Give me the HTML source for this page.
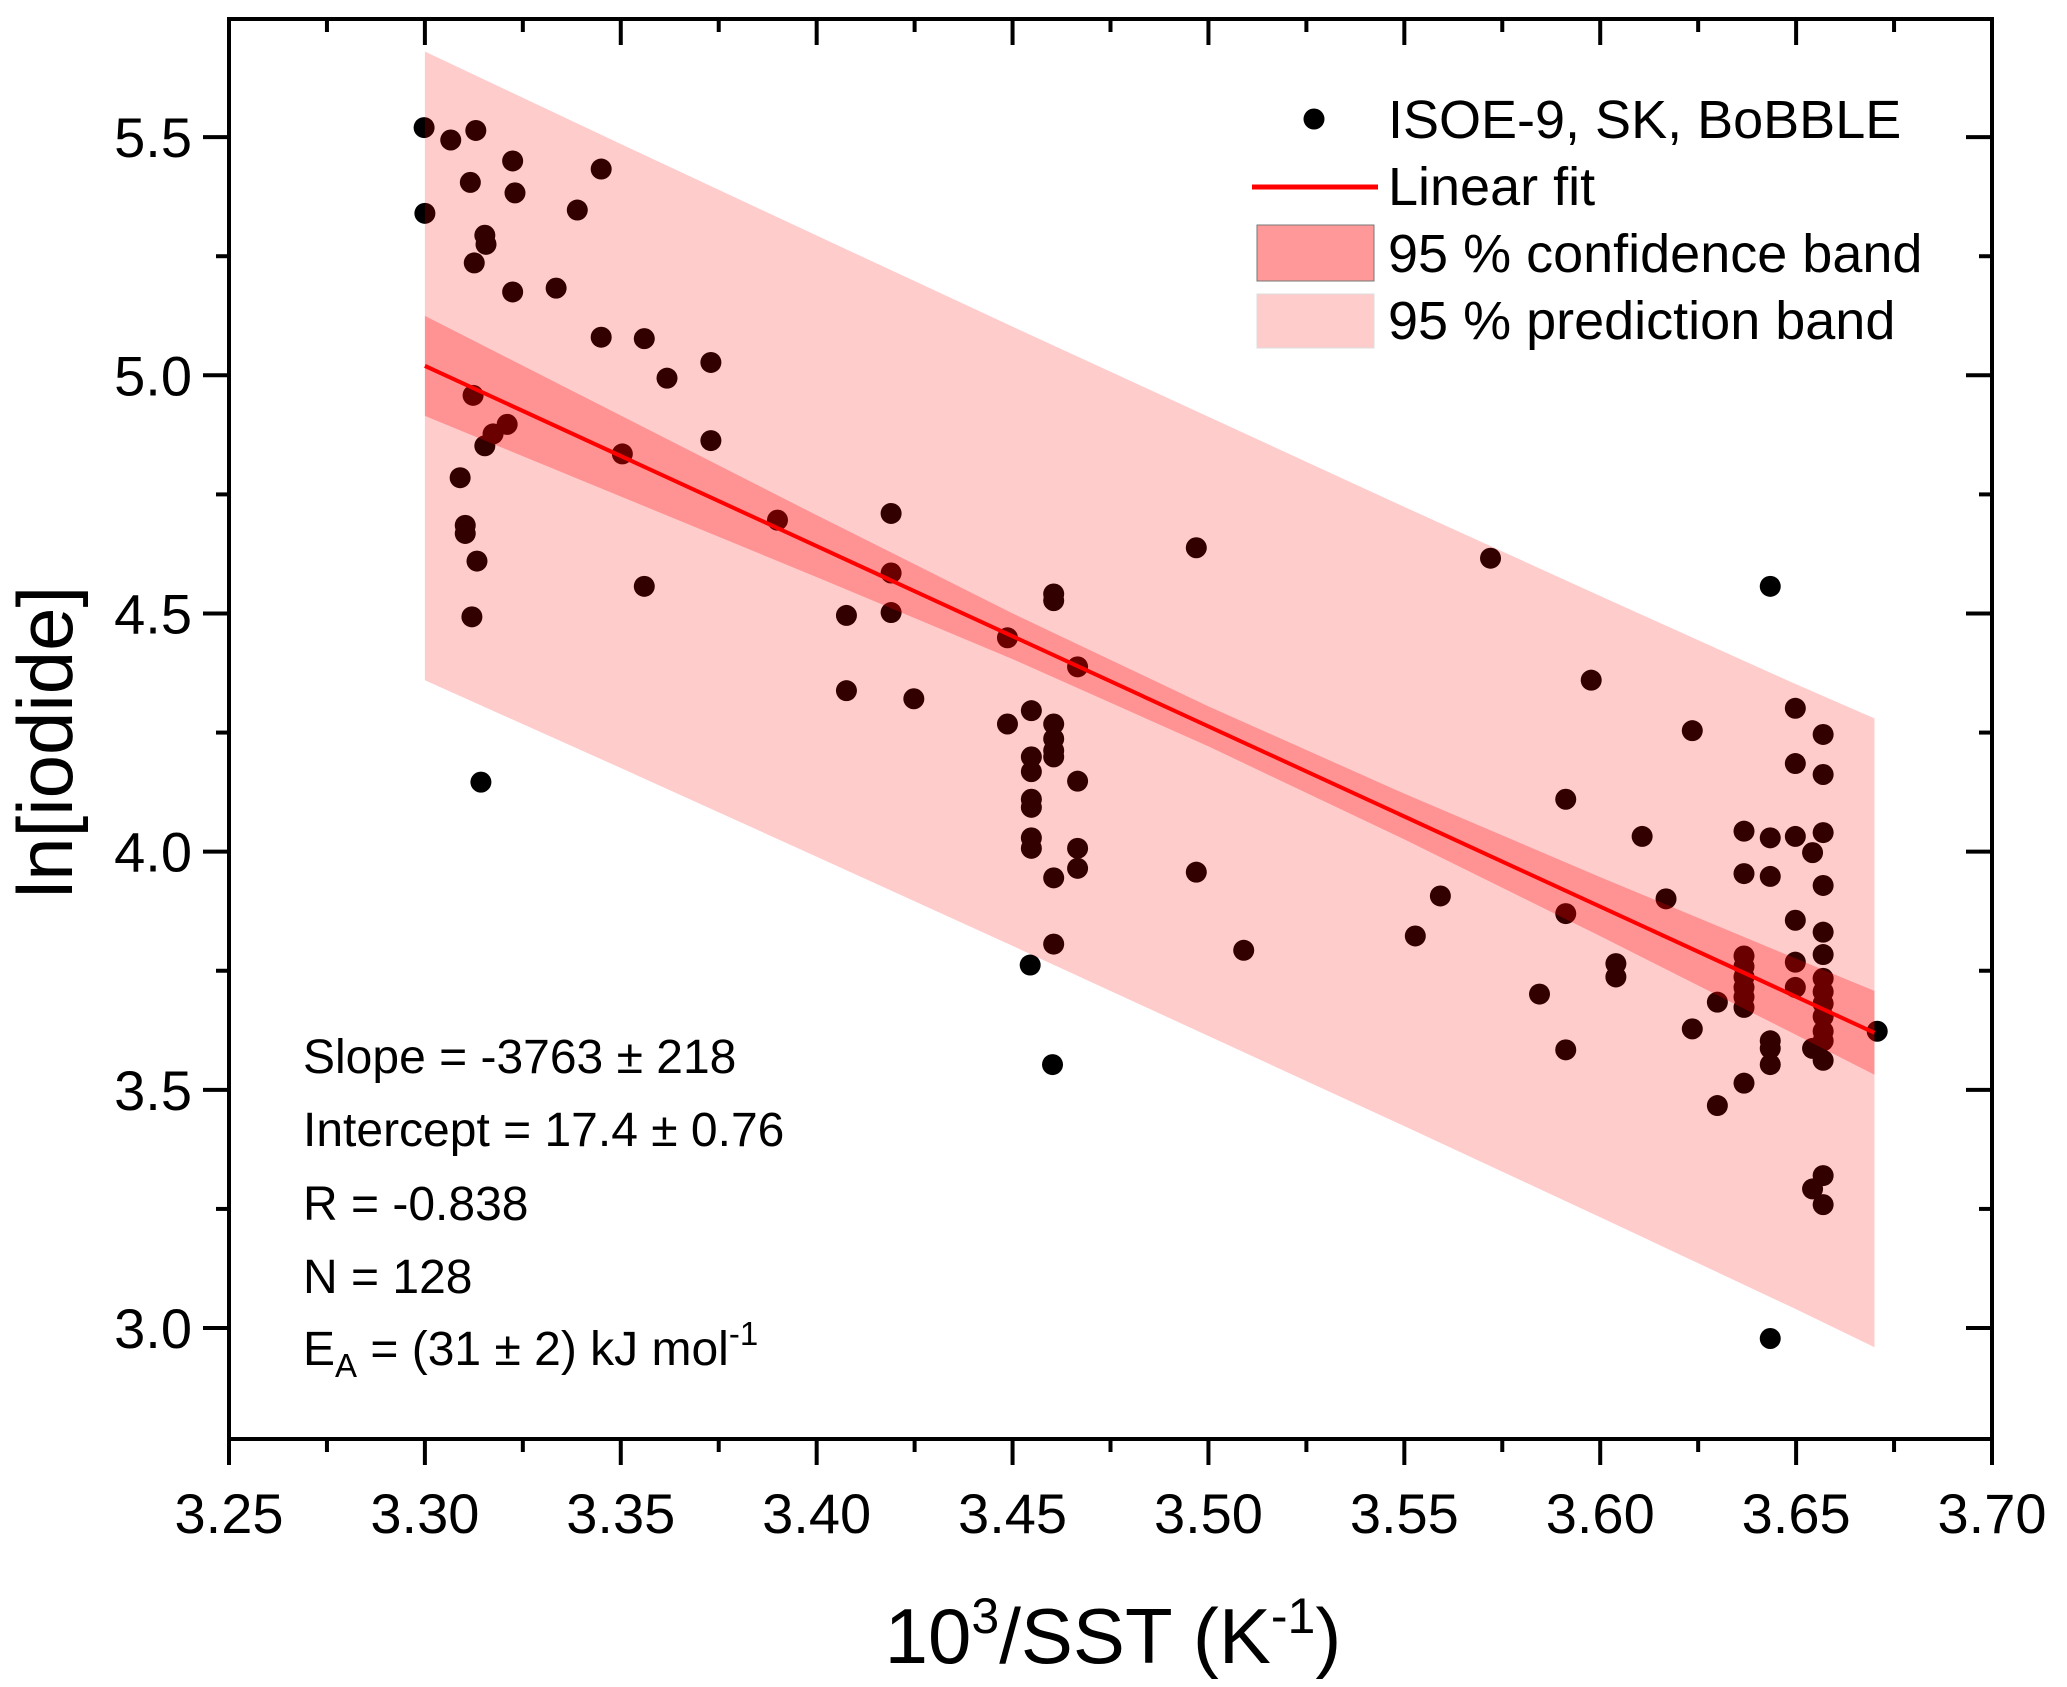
<!DOCTYPE html>
<html><head><meta charset="utf-8"><style>
body{margin:0;background:#fff}
svg{display:block;font-family:"Liberation Sans",Arial,sans-serif}
</style></head><body>
<svg id="chart" width="2067" height="1687" viewBox="0 0 2067 1687">
<g id="plot"></g>
<g id="axes"></g>
<g font-size="54">
  <circle cx="1314" cy="119" r="10.5" fill="#000"/>
  <text x="1388" y="138">ISOE-9, SK, BoBBLE</text>
  <line x1="1252" y1="187" x2="1378" y2="187" stroke="#f00" stroke-width="5"/>
  <text x="1388" y="205">Linear fit</text>
  <rect x="1257" y="225" width="117" height="56" fill="#ff9999" stroke="#777" stroke-width="1"/>
  <text x="1388" y="272">95 %  confidence  band</text>
  <rect x="1257" y="294" width="117" height="54" fill="#ffcccc" stroke="#ddd" stroke-width="1"/>
  <text x="1388" y="339">95 %  prediction  band</text>
</g>
<g font-size="48">
  <text x="303" y="1073">Slope = -3763 ± 218</text>
  <text x="303" y="1146">Intercept = 17.4 ± 0.76</text>
  <text x="303" y="1220">R = -0.838</text>
  <text x="303" y="1293">N = 128</text>
  <text x="303" y="1365">E<tspan font-size="33" dy="12">A</tspan><tspan dy="-12"> = (31 ± 2) kJ mol</tspan><tspan font-size="33" dy="-20">-1</tspan></text>
</g>
<text x="1113" y="1663" font-size="78" text-anchor="middle">10<tspan font-size="50" dy="-30">3</tspan><tspan dy="30">/SST (K</tspan><tspan font-size="50" dy="-30">-1</tspan><tspan dy="30">)</tspan></text>
<text transform="translate(72,742) rotate(-90)" font-size="78" text-anchor="middle">ln[iodide]</text>
</svg>
<script>
const xsData=[3.2998,3.30,3.3066,3.313,3.3116,3.3224,3.323,3.3153,3.3156,3.3126,3.3224,3.3335,3.3389,3.345,3.345,3.356,3.3618,3.373,3.373,3.3123,3.321,3.3174,3.3153,3.309,3.3103,3.3103,3.3133,3.312,3.3504,3.356,3.3143,3.390,3.419,3.419,3.419,3.4076,3.4076,3.4248,3.4487,3.4487,3.4548,3.4548,3.4548,3.4548,3.4548,3.4548,3.4548,3.4545,3.4605,3.4605,3.4605,3.4605,3.4605,3.4605,3.4605,3.4605,3.4602,3.4666,3.4666,3.4666,3.4666,3.4969,3.4969,3.509,3.5528,3.5592,3.572,3.5845,3.5912,3.5912,3.5912,3.5977,3.604,3.604,3.6107,3.6168,3.6235,3.6235,3.6299,3.6299,3.6367,3.6367,3.6367,3.6367,3.6367,3.6367,3.6367,3.6367,3.6367,3.6434,3.6434,3.6434,3.6434,3.6434,3.6434,3.6434,3.6498,3.6498,3.6498,3.6498,3.6498,3.6498,3.6569,3.6569,3.6569,3.6569,3.6569,3.6569,3.6569,3.6569,3.6569,3.6569,3.6569,3.6569,3.6569,3.6569,3.6569,3.6542,3.6542,3.6542,3.6707];
const ysData=[5.52,5.34,5.494,5.514,5.405,5.45,5.383,5.294,5.275,5.236,5.175,5.183,5.347,5.433,5.08,5.077,4.994,5.027,4.863,4.958,4.897,4.877,4.852,4.785,4.685,4.668,4.61,4.493,4.835,4.557,4.146,4.696,4.71,4.585,4.502,4.496,4.338,4.321,4.449,4.268,4.296,4.199,4.168,4.11,4.093,4.029,4.007,3.762,4.541,4.527,4.268,4.237,4.212,4.199,3.945,3.806,3.553,4.388,4.148,4.007,3.965,4.638,3.957,3.793,3.823,3.907,4.616,3.701,4.11,3.87,3.584,4.36,3.765,3.737,4.032,3.901,4.254,3.628,3.684,3.467,4.043,3.954,3.781,3.759,3.737,3.715,3.695,3.673,3.514,4.557,4.029,3.948,3.603,3.587,3.553,2.978,4.301,4.185,4.032,3.856,3.768,3.715,4.246,4.162,4.04,3.929,3.831,3.784,3.734,3.706,3.681,3.654,3.623,3.603,3.562,3.32,3.259,3.998,3.587,3.292,3.623];
const fitSlope=-3.784;
const fitIntercept=17.507;
const bandX=[3.30,3.35,3.40,3.45,3.50,3.55,3.60,3.65,3.67];
const ciHalf=[0.105,0.085,0.065,0.048,0.042,0.048,0.062,0.08,0.088];
const piHalf=[0.66,0.655,0.652,0.65,0.65,0.65,0.652,0.656,0.66];
const xTicks=[3.25,3.30,3.35,3.40,3.45,3.50,3.55,3.60,3.65,3.70];
const xTickLabels=["3.25","3.30","3.35","3.40","3.45","3.50","3.55","3.60","3.65","3.70"];
const yTicks=[3.0,3.5,4.0,4.5,5.0,5.5];
const yTickLabels=["3.0","3.5","4.0","4.5","5.0","5.5"];

const L=229,R=1992,T=19,B=1439,XMIN=3.25,XMAX=3.70,YMIN=2.767,YMAX=5.748;
const sx=v=>L+(v-XMIN)/(XMAX-XMIN)*(R-L);
const sy=v=>B-(v-YMIN)/(YMAX-YMIN)*(B-T);
const NS="http://www.w3.org/2000/svg";
const plot=document.getElementById('plot'), axes=document.getElementById('axes');
function mk(tag,attrs,parent){const e=document.createElementNS(NS,tag);for(const k in attrs)e.setAttribute(k,attrs[k]);parent.appendChild(e);return e;}
const fit=x=>fitIntercept+fitSlope*x;

xsData.forEach((x,i)=>{
  const c=mk('circle',{cx:sx(x),cy:sy(ysData[i]),r:10.5,fill:'#000'},plot);
  
  
});
function band(half,color,name){
  const up=bandX.map((x,i)=>sx(x)+','+sy(fit(x)+half[i]));
  const dn=bandX.map((x,i)=>sx(x)+','+sy(fit(x)-half[i])).reverse();
  const p=mk('polygon',{points:up.concat(dn).join(' '),fill:color},plot);
  
  
}
band(piHalf,'rgba(255,0,0,0.2)','prediction-band');
band(ciHalf,'rgba(255,0,0,0.28)','confidence-band');
const x0=bandX[0],x1=bandX[bandX.length-1];
const fl=mk('line',{x1:sx(x0),y1:sy(fit(x0)),x2:sx(x1),y2:sy(fit(x1)),stroke:'#f00','stroke-width':4},plot);



const fr=mk('rect',{x:L,y:T,width:R-L,height:B-T,fill:'none',stroke:'#000','stroke-width':4},axes);


xTicks.forEach((v,i)=>{
  const x=sx(v);
  mk('line',{x1:x,y1:B,x2:x,y2:B+26,stroke:'#000','stroke-width':4},axes);
  mk('line',{x1:x,y1:T,x2:x,y2:T+26,stroke:'#000','stroke-width':4},axes);
  const t=mk('text',{x:x,y:1533,'font-size':56,'text-anchor':'middle'},axes);
  t.textContent=xTickLabels[i];
  
  
  if(i<xTicks.length-1){const m=sx(v+0.025);
    mk('line',{x1:m,y1:B,x2:m,y2:B+13,stroke:'#000','stroke-width':4},axes);
    mk('line',{x1:m,y1:T,x2:m,y2:T+13,stroke:'#000','stroke-width':4},axes);}
});
const yMinor=[2.75,3.25,3.75,4.25,4.75,5.25,5.75];
yMinor.forEach(v=>{if(v>=YMIN&&v<=YMAX){const y=sy(v);
  mk('line',{x1:L-13,y1:y,x2:L,y2:y,stroke:'#000','stroke-width':4},axes);
  mk('line',{x1:R-13,y1:y,x2:R,y2:y,stroke:'#000','stroke-width':4},axes);}});
yTicks.forEach((v,i)=>{
  const y=sy(v);
  mk('line',{x1:L-26,y1:y,x2:L,y2:y,stroke:'#000','stroke-width':4},axes);
  mk('line',{x1:R-26,y1:y,x2:R,y2:y,stroke:'#000','stroke-width':4},axes);
  const t=mk('text',{x:192,y:y+20,'font-size':56,'text-anchor':'end'},axes);
  t.textContent=yTickLabels[i];
  
  
});
</script>
</body></html>
